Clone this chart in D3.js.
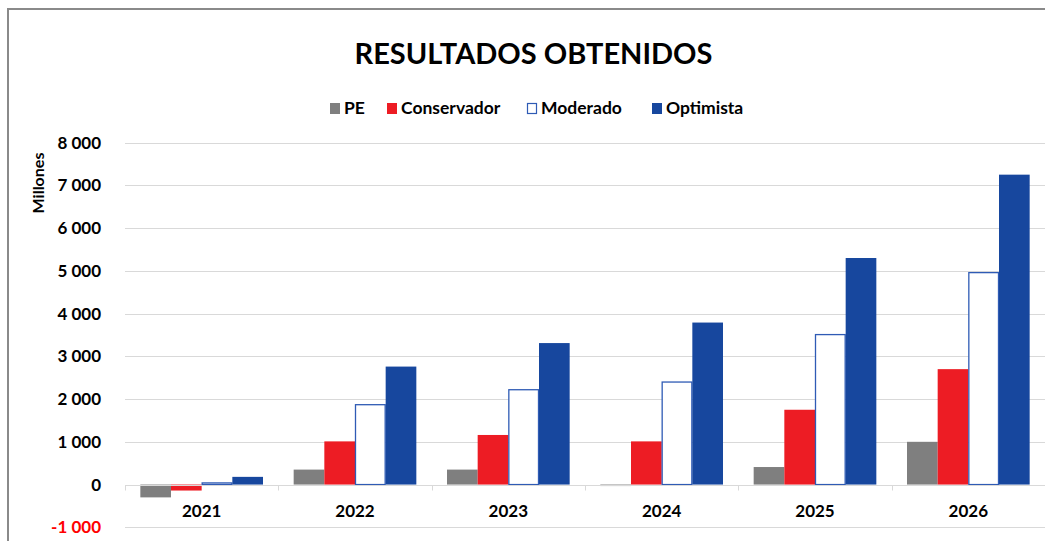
<!DOCTYPE html>
<html>
<head>
<meta charset="utf-8">
<script src="https://cdn.jsdelivr.net/npm/d3@7"></script>
<style>
  html, body { margin: 0; padding: 0; background: #fff; }
  svg { display: block; }
  text { font-family: Lato, "Open Sans", "DejaVu Sans", sans-serif; font-weight: bold; }
</style>
</head>
<body>
<svg id="chart" width="1045" height="541"></svg>
<script>
const years = ["2021", "2022", "2023", "2024", "2025", "2026"];
const seriesNames = ["PE", "Conservador", "Moderado", "Optimista"];
const pe          = [-300, 350, 350, -35, 410, 1000];
const conservador = [-140, 1010, 1160, 1010, 1750, 2700];
const moderado    = [50, 1880, 2230, 2410, 3520, 4970];
const optimista   = [180, 2760, 3310, 3790, 5300, 7250];
const yTicks = [-1000, 0, 1000, 2000, 3000, 4000, 5000, 6000, 7000, 8000];
const titleText = "RESULTADOS OBTENIDOS";
const yLabel = "Millones";

const seriesValues = [pe, conservador, moderado, optimista];
const fills   = ["#7f7f7f", "#ed1c24", "#ffffff", "#17479e"];
const strokes = ["none", "none", "#2f5bb5", "none"];

const svg = d3.select("#chart");

// outer frame
svg.append("rect")
  .attr("x", 8).attr("y", 9).attr("width", 1100).attr("height", 600)
  .attr("fill", "none").attr("stroke", "#8a8a8a").attr("stroke-width", 2);

const x0 = d3.scaleBand().domain(years).range([125, 1045]).paddingInner(0).paddingOuter(0);
const x1 = d3.scaleBand().domain(seriesNames).range([0, x0.bandwidth()]).paddingInner(0).paddingOuter(0.5);
const y = d3.scaleLinear().domain([-1000, 8000]).range([527.3, 142.6]);

const fmt = d3.formatLocale({ decimal: ",", thousands: " ", grouping: [3], currency: ["", ""], minus: "-" }).format(",d");

// gridlines
svg.append("g").selectAll("line").data(yTicks).join("line")
  .attr("x1", 125).attr("x2", 1045)
  .attr("y1", d => Math.round(y(d)) + 0.5).attr("y2", d => Math.round(y(d)) + 0.5)
  .attr("stroke", "#d9d9d9").attr("stroke-width", 1);

// y tick labels
svg.append("g").selectAll("text").data(yTicks).join("text")
  .attr("x", 101).attr("y", d => y(d))
  .attr("dy", "0.36em")
  .attr("text-anchor", "end")
  .attr("font-size", 17)
  .attr("fill", d => d < 0 ? "#ff0000" : "#000")
  .text(d => fmt(d));

// bars
const groups = svg.append("g").selectAll("g").data(years).join("g")
  .attr("transform", d => `translate(${x0(d)},0)`);

groups.selectAll("rect")
  .data((yr, i) => seriesNames.map((s, j) => ({ s, j, v: seriesValues[j][i] })))
  .join("rect")
  .attr("x", d => x1(d.s) + (d.j === 2 ? 0.5 : 0))
  .attr("width", d => x1.bandwidth() - (d.j === 2 ? 1 : 0))
  .attr("y", d => Math.min(y(d.v), y(0)) + (d.j === 2 ? 0.5 : 0))
  .attr("height", d => Math.max(Math.abs(y(d.v) - y(0)) - (d.j === 2 ? 0.5 : 0), 1))
  .attr("fill", d => fills[d.j])
  .attr("stroke", d => strokes[d.j])
  .attr("stroke-width", 1.3);

// category axis at zero
const zeroY = Math.round(y(0)) + 0.5;
svg.append("line").attr("x1", 125).attr("x2", 1045).attr("y1", zeroY).attr("y2", zeroY)
  .attr("stroke", "#d9d9d9").attr("stroke-width", 1);
const bounds = years.map(d => x0(d));
svg.append("g").selectAll("line").data(bounds).join("line")
  .attr("x1", d => Math.round(d) + 0.5).attr("x2", d => Math.round(d) + 0.5)
  .attr("y1", zeroY).attr("y2", zeroY + 5)
  .attr("stroke", "#d9d9d9").attr("stroke-width", 1);

// year labels
svg.append("g").selectAll("text").data(years).join("text")
  .attr("x", d => x0(d) + x0.bandwidth() / 2)
  .attr("y", 517)
  .attr("text-anchor", "middle")
  .attr("font-size", 17)
  .attr("fill", "#000")
  .text(d => d);

// title
svg.append("text")
  .attr("x", 533.5).attr("y", 63.5)
  .attr("text-anchor", "middle")
  .attr("font-size", 29)
  .attr("fill", "#000")
  .text(titleText);

// y axis label
svg.append("text")
  .attr("transform", "translate(43.5,183) rotate(-90)")
  .attr("text-anchor", "middle")
  .attr("font-size", 16)
  .attr("fill", "#000")
  .text(yLabel);

// legend
const legendX = [330, 387, 527, 652];
const leg = svg.append("g").selectAll("g").data(seriesNames).join("g")
  .attr("transform", (d, i) => `translate(${legendX[i]},0)`);
leg.append("rect")
  .attr("x", (d, i) => i === 2 ? 0.5 : 0)
  .attr("y", (d, i) => i === 2 ? 103.5 : 103)
  .attr("width", (d, i) => i === 2 ? 9 : 10)
  .attr("height", (d, i) => i === 2 ? 10 : 11)
  .attr("fill", (d, i) => fills[i])
  .attr("stroke", (d, i) => strokes[i])
  .attr("stroke-width", 1.2);
leg.append("text")
  .attr("x", 14).attr("y", 114)
  .attr("font-size", 17.5)
  .attr("fill", "#000")
  .text(d => d);
</script>
</body>
</html>
